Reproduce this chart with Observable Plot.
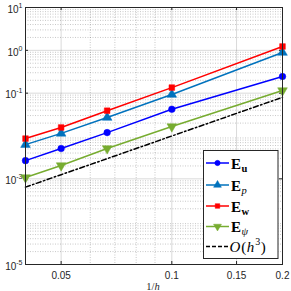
<!DOCTYPE html>
<html>
<head>
<meta charset="utf-8">
<script src="https://cdn.jsdelivr.net/npm/d3@7"></script>
<script src="https://cdn.jsdelivr.net/npm/@observablehq/plot@0.6"></script>
<style>
html,body{margin:0;padding:0;background:#fff;}
</style>
</head>
<body>
<div id="chart"></div>
<script>
// ---- data ----
const hVals = [0.04, 0.05, 0.0667, 0.1, 0.2];
const Eu    = [0.00266, 0.0051, 0.012, 0.042, 0.245];
const Ep    = [0.0063, 0.0115, 0.027, 0.093, 0.89];
const Ew    = [0.0087, 0.0158, 0.039, 0.135, 1.23];
const Epsi  = [0.00107, 0.00204, 0.0051, 0.0166, 0.115];
const Oh3   = [0.00064, 0.00125, 0.00296, 0.01, 0.08];

const xTicks = [0.05, 0.1, 0.15, 0.2];
const xTickLabels = ["0.05", "0.1", "0.15", "0.2"];
const xMinor = [0.04, 0.06, 0.07, 0.08, 0.09];
const yTicks = [1e-5, 1e-3, 1e-1, 1, 10];
const yExponents = ["-5", "-3", "-1", "0", "1"];
const yMinor = [];
for (let k = -5; k < 1; k++) for (let m = 2; m <= 9; m++) yMinor.push(m * Math.pow(10, k));

const nearestIndex = (arr, d) => {
  let best = 0, bd = Infinity;
  arr.forEach((v, i) => { const e = Math.abs(Math.log(v) - Math.log(d)); if (e < bd) { bd = e; best = i; } });
  return best;
};

const triangleDown = {
  draw(ctx, size) {
    const y = Math.sqrt(size / (3 * Math.sqrt(3)));
    ctx.moveTo(0, 2 * y);
    ctx.lineTo(-Math.sqrt(3) * y, -y);
    ctx.lineTo(Math.sqrt(3) * y, -y);
    ctx.closePath();
  }
};

const seriesDefs = [
  {key: "Eu", vals: Eu, color: "#0000ff", symbol: "circle", r: 3.3},
  {key: "Ep", vals: Ep, color: "#0072BD", symbol: "triangle", r: 3.6},
  {key: "Ew", vals: Ew, color: "#ff0000", symbol: "square", r: 3.2},
  {key: "Epsi", vals: Epsi, color: "#77AC30", symbol: triangleDown, r: 3.6}
];
const toRows = vals => hVals.map((h, i) => ({h, v: vals[i]}));

const marks = [
  Plot.gridX(xMinor, {stroke: "#000", strokeOpacity: 0.22, strokeDasharray: "1,1.5"}),
  Plot.gridY(yMinor, {stroke: "#000", strokeOpacity: 0.22, strokeDasharray: "1,1.5"}),
  Plot.gridX(xTicks, {stroke: "#000", strokeOpacity: 0.15}),
  Plot.gridY(yTicks, {stroke: "#000", strokeOpacity: 0.15}),
  Plot.tickX(xTicks, {x: d => d, insetTop: 254, stroke: "#262626"}),
  Plot.tickX(xTicks, {x: d => d, insetBottom: 254, stroke: "#262626"}),
  Plot.tickY(yTicks, {y: d => d, insetRight: 254, stroke: "#262626"}),
  Plot.tickY(yTicks, {y: d => d, insetLeft: 254, stroke: "#262626"}),
  Plot.axisX({ticks: xTicks, tickFormat: d => xTickLabels[nearestIndex(xTicks, d)], tickSize: 0, tickPadding: 7, label: null, fontSize: 10}),
  Plot.axisY({ticks: yTicks, tickFormat: d => "10^" + yExponents[nearestIndex(yTicks, d)], tickSize: 0, tickPadding: 3, label: null, fontSize: 10}),
];
for (const s of seriesDefs) {
  marks.push(Plot.line(toRows(s.vals), {x: "h", y: "v", stroke: s.color, strokeWidth: 1.5}));
}
marks.push(Plot.line(toRows(Oh3), {x: "h", y: "v", stroke: "#000", strokeWidth: 1.5, strokeDasharray: "5,2.5,1.5,2.5"}));
for (const s of seriesDefs) {
  marks.push(Plot.dot(toRows(s.vals), {x: "h", y: "v", fill: s.color, stroke: s.color, symbol: s.symbol, r: s.r, strokeWidth: 0.5}));
}
marks.push(Plot.frame({stroke: "#262626", strokeWidth: 1}));

const svg = Plot.plot({
  width: 291,
  height: 291,
  marginLeft: 25,
  marginRight: 9,
  marginTop: 7,
  marginBottom: 27,
  x: {type: "log", domain: [0.04, 0.2]},
  y: {type: "log", domain: [1e-5, 10]},
  style: {fontFamily: "'Liberation Sans', Arial, sans-serif", fontSize: "10px", color: "#262626", background: "#fff", overflow: "visible"},
  marks
});

// superscripts for y tick labels
d3.select(svg).selectAll('g[aria-label="y-axis tick label"] text').each(function() {
  const t = d3.select(this);
  const [base, exp] = t.text().split("^");
  t.text("");
  t.append("tspan").attr("dy", "2").text(base);
  t.append("tspan").attr("dy", "-5").attr("font-size", "7px").text(exp);
});

// x axis label 1/h
const serif = "'Liberation Serif', 'DejaVu Serif', serif";
const xl = d3.select(svg).append("text")
  .attr("x", 153).attr("y", 290)
  .attr("text-anchor", "middle").attr("font-family", serif).attr("font-size", 10.5).attr("fill", "#262626");
xl.append("tspan").text("1/");
xl.append("tspan").attr("font-style", "italic").text("h");

// legend
const lg = d3.select(svg).append("g").attr("text-anchor", "start");
lg.append("rect").attr("x", 203.5).attr("y", 150.5).attr("width", 74.5).attr("height", 108)
  .attr("fill", "#fff").attr("stroke", "#262626").attr("stroke-width", 1);
const rowsY = [163, 185, 206, 226.5, 246.5];
const symMap = {circle: d3.symbolCircle, triangle: d3.symbolTriangle, square: d3.symbolSquare};
const labels = [
  [["E", "bold", "normal"], ["u", "bold", "normal", true]],
  [["E", "bold", "normal"], ["p", "normal", "italic", true]],
  [["E", "bold", "normal"], ["w", "bold", "normal", true]],
  [["E", "bold", "normal"], ["ψ", "normal", "italic", true]]
];
seriesDefs.forEach((s, i) => {
  const y = rowsY[i];
  lg.append("line").attr("x1", 206).attr("x2", 229).attr("y1", y).attr("y2", y)
    .attr("stroke", s.color).attr("stroke-width", 1.5);
  const type = typeof s.symbol === "string" ? symMap[s.symbol] : s.symbol;
  lg.append("path").attr("transform", `translate(217.5,${y})`)
    .attr("d", d3.symbol(type, Math.PI * s.r * s.r * 0.65)())
    .attr("fill", s.color).attr("stroke", s.color).attr("stroke-width", 0.5);
  const t = lg.append("text").attr("x", 231).attr("y", y + 5.5).attr("text-anchor", "start")
    .attr("font-family", serif).attr("font-size", 15).attr("fill", "#000");
  labels[i].forEach(([txt, fw, fs, sub]) => {
    const ts = t.append("tspan").attr("font-weight", fw).attr("font-style", fs).text(txt);
    if (sub) ts.attr("font-size", 10.5).attr("dy", 3).attr("dx", 0.5);
  });
});
{
  const y = rowsY[4];
  lg.append("line").attr("x1", 206).attr("x2", 229).attr("y1", y).attr("y2", y)
    .attr("stroke", "#000").attr("stroke-width", 1.5).attr("stroke-dasharray", "4,2");
  const t = lg.append("text").attr("x", 229.5).attr("y", y + 5.5).attr("text-anchor", "start")
    .attr("font-family", serif).attr("font-size", 15).attr("fill", "#000");
  t.append("tspan").attr("font-style", "italic").text("O");
  t.append("tspan").attr("dx", 1).text("(");
  t.append("tspan").attr("font-style", "italic").attr("dx", 0.5).text("h");
  t.append("tspan").attr("font-size", 10).attr("dy", -7).attr("dx", 1).text("3");
  t.append("tspan").attr("dy", 7).attr("dx", 0.5).text(")");
}

document.getElementById("chart").appendChild(svg);
</script>
</body>
</html>
